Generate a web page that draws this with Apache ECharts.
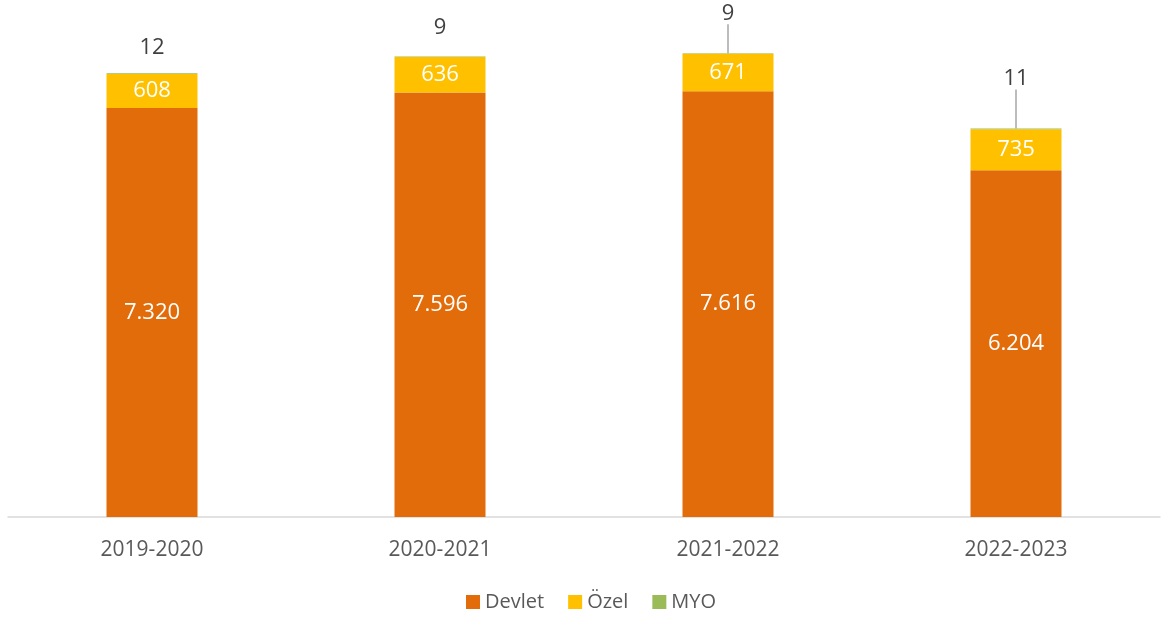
<!DOCTYPE html>
<html><head><meta charset="utf-8">
<script src="https://cdn.jsdelivr.net/npm/echarts@6/dist/echarts.min.js"></script>
<style>html,body{margin:0;padding:0;background:#fff}#c{width:1163px;height:618px}</style>
</head><body><div id="c"></div>
<script>
const categories = ['2019-2020','2020-2021','2021-2022','2022-2023'];
const devlet = [7320, 7596, 7616, 6204];
const ozel = [608, 636, 671, 735];
const myo = [12, 9, 9, 11];

// label placement (styling only)
const myoLabelDy = [-10, -13, -24, -34];
const myoLeader = [false, false, true, true];

function fmt(v){ return String(v).replace(/\B(?=(\d{3})+(?!\d))/g, '.'); }
const FONT = '"Open Sans", "Noto Sans", sans-serif';

const chart = echarts.init(document.getElementById('c'));
chart.setOption({
  animation: false,
  textStyle: {fontFamily: FONT},
  grid: {left: 8, right: 3, top: 14, bottom: 101},
  legend: {
    bottom: 1, left: 461, icon: 'rect', itemWidth: 14, itemHeight: 14, itemGap: 24,
    textStyle: {fontSize: 20, color: '#595959', fontFamily: FONT},
    data: ['Devlet','Özel','MYO']
  },
  xAxis: {
    type: 'category', data: categories,
    axisLine: {lineStyle: {color: '#D9D9D9', width: 1.5}},
    axisTick: {show: false},
    axisLabel: {fontSize: 21, color: '#595959', margin: 23, fontFamily: FONT}
  },
  yAxis: {type: 'value', min: 0, max: 9000, show: false, splitLine: {show: false}},
  series: [
    {name: 'Devlet', type: 'bar', stack: 't', barWidth: 91, data: devlet,
     itemStyle: {color: '#E36C0A'},
     label: {show: true, position: 'inside', color: '#fff', fontSize: 22, fontFamily: FONT, formatter: p => fmt(p.value)}},
    {name: 'Özel', type: 'bar', stack: 't', data: ozel,
     itemStyle: {color: '#FFC000'},
     label: {show: true, position: 'inside', color: '#fff', fontSize: 22, fontFamily: FONT, formatter: p => fmt(p.value)}},
    {name: 'MYO', type: 'bar', stack: 't',
     data: myo.map((v, i) => ({value: v, labelLine: {show: myoLeader[i]}})),
     itemStyle: {color: '#9BBB59'},
     label: {show: true, position: 'top', distance: 5, color: '#404040', fontSize: 22, fontFamily: FONT, formatter: p => fmt(p.value)},
     labelLine: {show: false, lineStyle: {color: '#A6A6A6', width: 1.5}},
     labelLayout: p => ({dy: myoLabelDy[p.dataIndex]})
    }
  ]
});
</script></body></html>
